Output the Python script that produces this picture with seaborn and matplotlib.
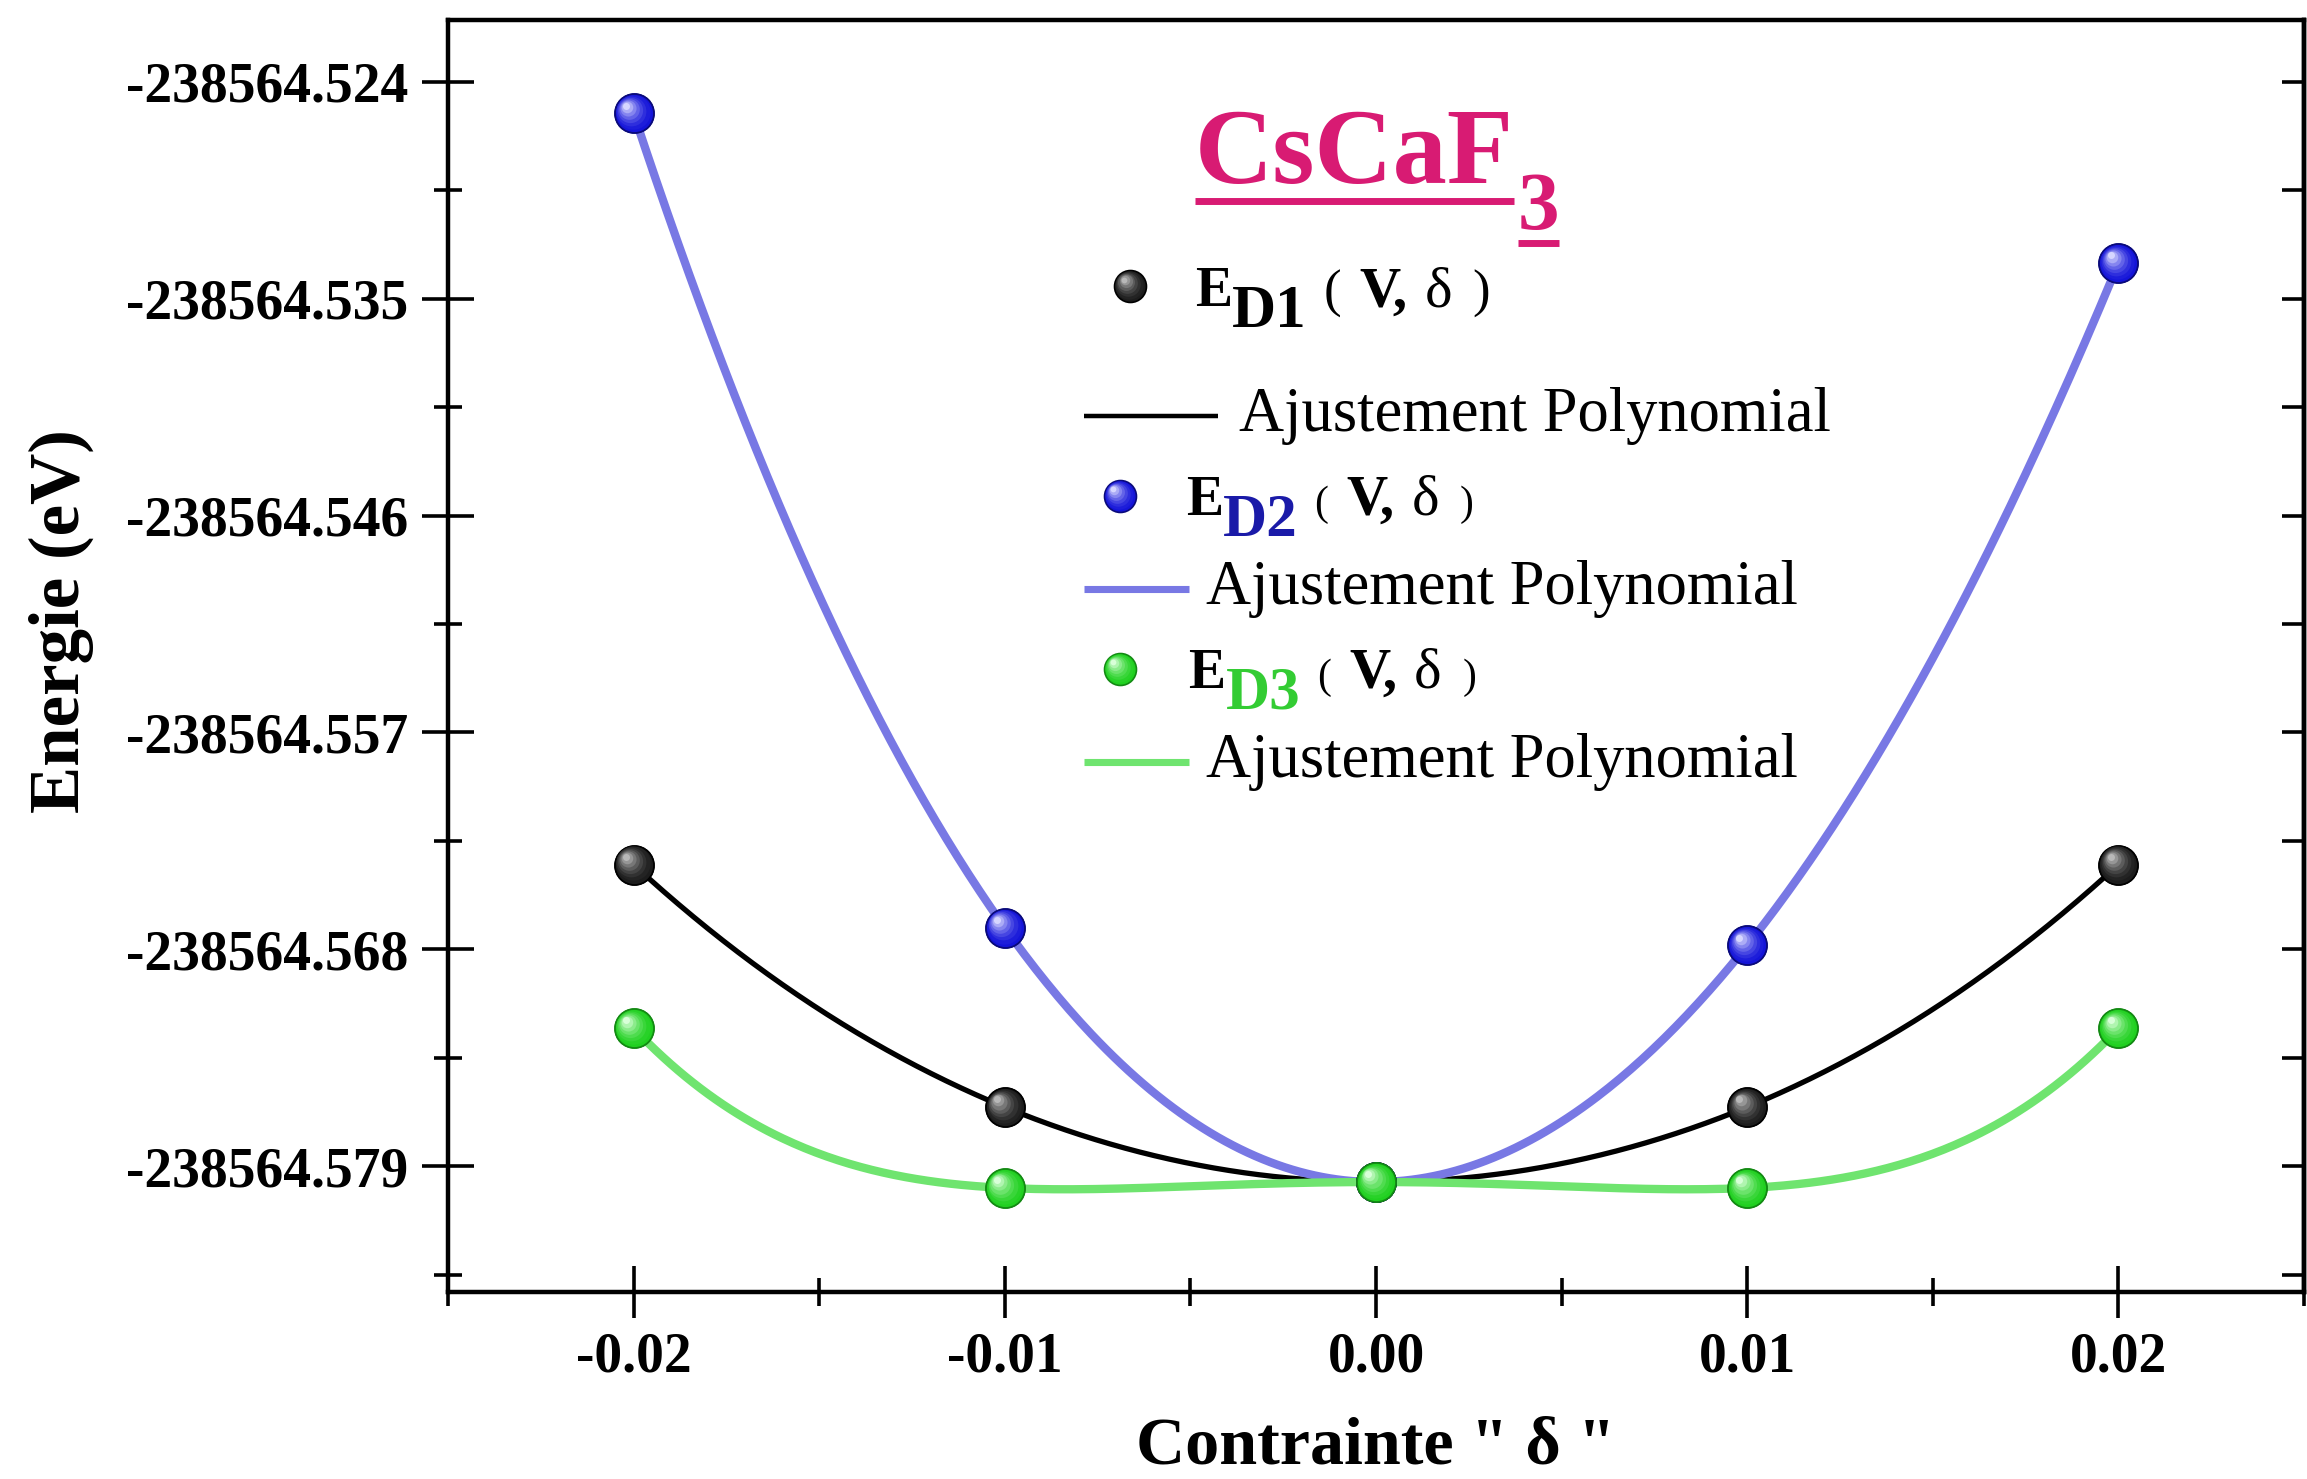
import numpy as np
import matplotlib
matplotlib.use("Agg")
import matplotlib.pyplot as plt
import seaborn as sns
from matplotlib.ticker import FixedLocator, AutoMinorLocator, FormatStrFormatter
from matplotlib.transforms import offset_copy
from matplotlib.colors import to_rgb

# ---- data -------------------------------------------------------------
strain = [-0.02, -0.01, 0.00, 0.01, 0.02]
e_d1 = [-238564.5637, -238564.5760, -238564.5798, -238564.5760, -238564.5637]
e_d2 = [-238564.5256, -238564.5669, -238564.5798, -238564.5678, -238564.5332]
e_d3 = [-238564.5720, -238564.5801, -238564.5798, -238564.5801, -238564.5720]

x_ticks = [-0.02, -0.01, 0.00, 0.01, 0.02]
y_ticks = [-238564.524, -238564.535, -238564.546, -238564.557, -238564.568, -238564.579]
x_limits = (-0.025, 0.025)
y_limits = (-238564.58538, -238564.52087)

title_main = "CsCaF"
title_sub = "3"
fit_label = "Ajustement Polynomial"
x_label = 'Contrainte " δ "'
y_label = "Energie (eV)"

# ---- style ------------------------------------------------------------
sns.set_theme(style="ticks")
plt.rcParams["font.family"] = ["Liberation Serif", "DejaVu Serif"]
plt.rcParams.update({
    "axes.linewidth": 3.2,
    "axes.edgecolor": "black",
    "axes.labelcolor": "black",
    "text.color": "black",
    "xtick.color": "black",
    "ytick.color": "black",
})

MAGENTA = "#d81b73"
series = [
    dict(y=e_d1, line="#000000", lw=3.8, base="#1c1c1c", edge="#000000", light="#b8b8b8", sub="D1", subc="#000000", par=38),
    dict(y=e_d2, line="#7878e4", lw=6.0, base="#1414d8", edge="#0a0a7a", light="#d6d6ff", sub="D2", subc="#1a1aa8", par=30),
    dict(y=e_d3, line="#6fe46f", lw=6.0, base="#20d020", edge="#138a13", light="#d8ffd8", sub="D3", subc="#33cc33", par=30),
]

fig = plt.figure(figsize=(23.07, 14.79), dpi=100)
ax = fig.add_axes([0.1942, 0.1264, 0.8045, 0.8600])


def blend(c1, c2, f):
    a, b = np.array(to_rgb(c1)), np.array(to_rgb(c2))
    return tuple(a + (b - a) * f)


def sphere(ax, x, y, base, edge, light, size, transform, z):
    """Shaded ball: base disc plus a stack of lighter discs drifting to the upper left."""
    ax.plot(x, y, "o", ms=size, mfc=base, mec=edge, mew=1.2, ls="none",
            transform=transform, zorder=z)
    n = 7
    for i in range(1, n + 1):
        f = i / n
        s = size * (1 - 0.82 * f)
        off = offset_copy(transform, fig=ax.figure, x=-size * 0.2 * f,
                          y=size * 0.2 * f, units="points")
        ax.plot(x, y, "o", ms=s, mfc=blend(base, light, f ** 1.6), mec="none",
                ls="none", transform=off, zorder=z + 0.01 * i)


# ---- fitted curves and data points -----------------------------------
xs = np.linspace(min(strain), max(strain), 400)
xarr = np.array(strain)
for k, s in enumerate(series):
    yarr = np.array(s["y"])
    ref = yarr[2]
    coef = np.polyfit(xarr / 0.01, yarr - ref, 4)
    fit = np.polyval(coef, xs / 0.01) + ref
    sns.lineplot(x=xs, y=fit, color=s["line"], lw=s["lw"], ax=ax, zorder=2 + k * 0.1)

for k, s in enumerate(series):
    sns.scatterplot(x=strain, y=s["y"], s=28 ** 2, color=s["base"], edgecolor=s["edge"],
                    linewidth=1.2, ax=ax, zorder=5 + k, legend=False)
    sphere(ax, strain, s["y"], s["base"], s["edge"], s["light"], 28, ax.transData, 5 + k)

# ---- axes -------------------------------------------------------------
ax.set_xlim(*x_limits)
ax.set_ylim(*y_limits)
ax.xaxis.set_major_locator(FixedLocator(x_ticks))
ax.yaxis.set_major_locator(FixedLocator(y_ticks))
ax.xaxis.set_major_formatter(FormatStrFormatter("%.2f"))
ax.yaxis.set_major_formatter(FormatStrFormatter("%.3f"))
ax.xaxis.set_minor_locator(AutoMinorLocator(2))
ax.yaxis.set_minor_locator(AutoMinorLocator(2))
ax.tick_params(axis="both", which="major", direction="inout", length=37, width=2.6,
               labelsize=40, pad=10, color="black", labelcolor="black")
ax.tick_params(axis="both", which="minor", direction="inout", length=20, width=2.6,
               color="black")
for lab in ax.get_xticklabels() + ax.get_yticklabels():
    lab.set_fontweight("bold")

right = ax.secondary_yaxis("right")
right.yaxis.set_major_locator(FixedLocator(y_ticks))
right.yaxis.set_minor_locator(AutoMinorLocator(2))
right.tick_params(which="major", direction="in", length=16, width=2.6, labelright=False,
                  color="black")
right.tick_params(which="minor", direction="in", length=16, width=2.6, color="black")
right.spines["right"].set_linewidth(3.2)

ax.set_xlabel(x_label, fontsize=49, fontweight="bold", labelpad=24)
ax.set_ylabel(y_label, fontsize=51, fontweight="bold")
ax.yaxis.set_label_coords(-0.191, 0.5275)

# ---- title and legend (manual) ----------------------------------------
renderer = fig.canvas.get_renderer()
inv = ax.transAxes.inverted()


def chain(x, y, parts):
    cur = x
    out = []
    for text, dy, size, weight, color, gap in parts:
        cur += gap
        t = ax.text(cur, y, text, fontsize=size, fontweight=weight, color=color,
                    ha="left", va="baseline", zorder=10,
                    transform=offset_copy(ax.transAxes, fig=fig, y=dy, units="points"))
        bb = t.get_window_extent(renderer=renderer)
        cur = inv.transform((bb.x1, bb.y0))[0]
        out.append(t)
    return out


t_main, t_sub = chain(0.4025, 0.872, [
    (title_main, 0, 78, "bold", MAGENTA, 0.0),
    (title_sub, -33, 60, "bold", MAGENTA, 0.002),
])
for t, yu in ((t_main, 0.8575), (t_sub, 0.825)):
    bb = t.get_window_extent(renderer=renderer)
    x0 = inv.transform((bb.x0, 0))[0]
    x1 = inv.transform((bb.x1, 0))[0]
    ax.plot([x0, x1], [yu, yu], color=MAGENTA, lw=5, transform=ax.transAxes,
            solid_capstyle="butt", zorder=10)

rows_marker = [(0.3675, 0.791, 0.4025, 0.775), (0.362, 0.626, 0.3976, 0.611),
               (0.362, 0.490, 0.399, 0.475)]
rows_line = [(0.3427, 0.415, 0.689, 0.426), (0.3427, 0.399, 0.553, 0.4086),
             (0.3427, 0.399, 0.417, 0.4086)]
for s, (mx, my, tx, ty), (l0, l1, ly, lx) in zip(series, rows_marker, rows_line):
    sphere(ax, [mx], [my], s["base"], s["edge"], s["light"], 23, ax.transAxes, 11)
    chain(tx, ty, [
        ("E", 0, 40, "bold", "black", 0.0),
        (s["sub"], -15, 44, "bold", s["subc"], 0.0),
        ("(", 0, s["par"], "normal", "black", 0.009),
        ("V,", 0, 41, "bold", "black", 0.010),
        ("δ", 0, 42, "normal", "black", 0.009),
        (")", 0, s["par"], "normal", "black", 0.011),
    ])
    ax.plot([l0, l1], [ly, ly], color=s["line"], lw=s["lw"] * 0.85, transform=ax.transAxes,
            solid_capstyle="butt", zorder=10)
    ax.text(lx, ly, fit_label, fontsize=45, color="black", ha="left", va="center",
            transform=ax.transAxes, zorder=10)

fig.savefig("out.png", dpi=100, facecolor="white")
